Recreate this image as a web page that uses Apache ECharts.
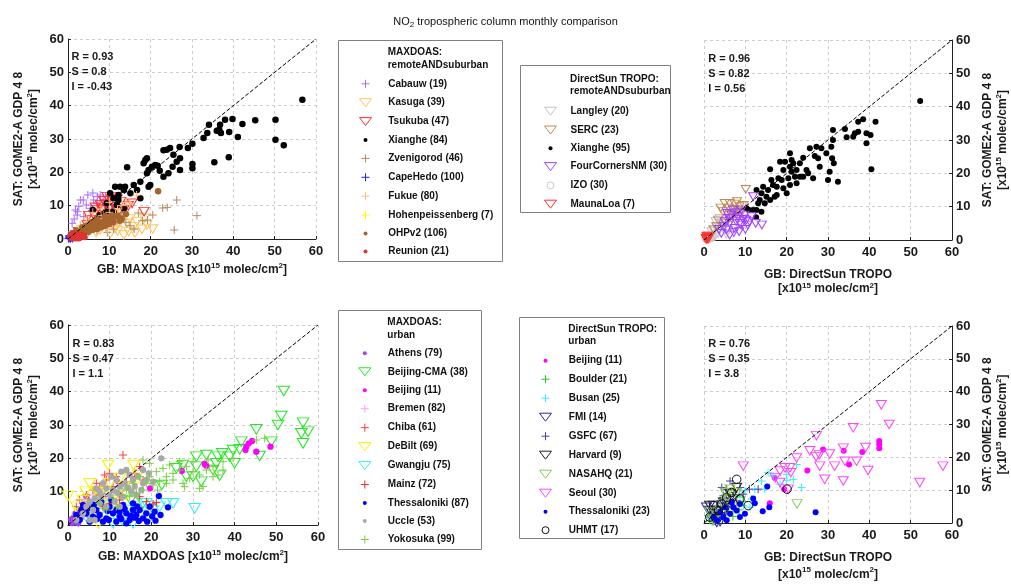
<!DOCTYPE html>
<html>
<head>
<meta charset="utf-8">
<script src="https://cdn.jsdelivr.net/npm/echarts@6.0.0/dist/echarts.min.js"></script>
<style>
  html, body { margin: 0; padding: 0; background: #fff; }
  #chart { width: 1011px; height: 584px; }
</style>
</head>
<body>
<div id="chart"></div>
<script>
// ---------------- data: [ground-based, satellite] in 1e15 molec/cm2 ----------------

// MAXDOAS remote and suburban stations
const tlCabauw = [[3.7,11.7],[7.1,12.7],[9.1,12.7],[2.3,8.2],[3.0,11.7],[4.8,13.2],[6.2,11.7],[1.8,8.7],[2.2,7.2],[7.8,13.2],[5.4,9.2],[1.0,4.7],[3.8,6.7],[7.0,10.7],[4.4,10.2],[6.0,13.8],[2.6,9.8],[8.5,11.5],[1.5,6.0]];
const tlKasuga = [[17.9,2.9],[15.9,3.7],[14.3,4.7],[12.6,5.2],[11.4,3.2],[9.4,3.7],[7.8,2.7],[14.7,2.2],[16.7,5.2],[19.1,4.2],[11.8,6.7],[7.8,5.7],[6.2,4.2],[4.6,2.7],[3.0,1.7],[1.4,0.9],[10.2,1.5],[5.4,5.7],[13.2,7.5],[18.5,6.2],[10.6,4.6],[8.8,6.4],[12.0,2.4],[16.2,1.8],[20.5,3.0],[9.0,8.0],[2.2,1.3],[6.8,1.9],[15.0,6.0],[13.5,1.2]];
const tlTsukuba = [[18.4,8.2],[15.5,10.7],[8.6,11.5],[7.8,10.2],[10.2,9.7],[7.0,8.7],[6.2,7.2],[5.4,5.7],[4.6,4.2],[3.8,2.7],[3.0,1.8],[12.2,8.2],[13.5,8.7],[9.4,12.7],[11.0,10.7],[1.8,1.2],[8.6,6.7],[9.8,7.6],[11.5,9.0],[6.6,9.5],[10.5,12.0],[12.8,11.2],[7.4,5.0],[5.0,7.0],[8.2,9.0],[14.6,10.0],[2.5,2.2],[9.0,10.5],[11.8,12.6],[6.0,4.6]];
const tlXianghe = [[56.7,41.8],[50.2,35.8],[50.2,29.8],[52.2,28.1],[45.3,35.6],[42.2,34.5],[41.1,30.6],[39.8,36.0],[38.0,35.8],[39.0,32.1],[36.8,34.3],[36.6,32.8],[36.0,32.5],[37.0,31.8],[34.1,34.3],[33.7,31.8],[32.8,30.3],[30.1,28.6],[29.0,27.3],[27.0,27.6],[35.4,23.0],[38.9,24.5],[30.1,22.5],[30.1,21.2],[27.1,24.2],[27.1,20.7],[25.5,25.3],[26.3,23.2],[24.7,27.3],[23.9,26.8],[23.1,26.6],[25.3,21.7],[24.3,19.7],[23.1,18.7],[21.1,22.2],[20.3,21.7],[19.5,20.7],[19.1,24.2],[18.7,23.7],[18.3,22.7],[19.1,19.7],[19.9,16.2],[19.5,15.7],[17.5,17.2],[15.9,16.2],[14.3,21.5],[13.8,15.7],[12.6,15.7],[11.4,15.7],[10.2,13.7],[12.2,13.2],[13.5,14.7],[15.1,13.7],[17.5,12.2],[11.0,12.2],[9.4,10.7],[11.8,10.2],[13.5,9.2],[11.0,8.2],[7.8,7.2],[6.0,8.7],[9.4,8.2],[12.2,11.7],[16.7,14.7],[21.7,22.0],[22.2,20.5]];
const tlZvenigorod = [[1.0,1.0],[2.0,2.0],[3.0,2.5],[4.0,3.0],[5.0,4.0],[6.0,3.0],[7.0,5.0],[8.0,4.0],[9.0,6.0],[10.0,5.0],[12.0,6.0],[14.0,5.0],[3.0,4.0],[5.0,2.0],[7.0,2.5],[11.0,3.0],[13.0,7.0],[15.0,4.0],[18.0,5.5],[16.0,3.0],[22.9,9.3],[26.3,11.7],[25.7,2.7],[31.2,7.0],[19.2,5.7],[24.0,9.5],[20.5,7.2],[9.5,2.0],[17.0,7.8]];
const tlCapeHedo = [[0.3,0.2],[0.5,0.5],[0.8,0.3],[1.0,0.8],[0.4,1.0],[1.2,0.4],[0.6,0.1],[1.5,1.0],[0.2,0.6],[0.9,1.3],[0.7,0.7],[1.1,0.1],[0.3,0.9],[1.3,0.6],[0.5,0.3],[0.1,0.1]];
const tlFukue = [[16.6,13.2],[5,5],[6,4],[7,6],[8,7],[9,5],[10,8],[4,3],[3,2],[2,1.5],[11,6],[12,9],[13,10],[14,11],[6,8],[8,9],[10,11],[5,3],[7,3.5],[3,4],[12,4],[15,10.5],[9.5,3],[11.5,7.5],[4.5,6]];
const tlHohenpeissenberg = [[2,2],[3,1],[4,3],[1.5,1],[5,2.5],[2.5,3],[1,0.5]];
const tlOHPv2 = [[1,0.8],[1.5,1.2],[2,1],[2,1.8],[2.5,1.5],[3,2],[3,1.2],[3.5,2.5],[4,2],[4,3],[4.5,2.5],[5,3.5],[5,2.2],[5.5,3],[6,4],[6,2.8],[6.5,3.5],[7,4.5],[7,3],[7.5,4],[8,5],[8,3.5],[8.5,4.5],[9,5.5],[9,4],[9.5,5],[10,6],[10,4.5],[11,6.5],[11,5],[12,7],[13,6],[14,7.5],[3.5,3.5],[4.5,4],[6,5],[7,6],[2,2.5],[1,1.5],[21.8,14.3],[12.5,5.5],[10.5,7],[9,6.8],[5.5,4.8]];
const tlReunion = [[1,0.5],[1.5,0.8],[2,0.6],[2.5,1],[3,0.8],[1.2,1.2],[2.2,1.4],[3.3,1.2],[0.8,0.3],[1.8,0.2],[2.8,0.4],[3.8,1],[1.5,1.6],[2.6,0.2],[4,0.6],[0.6,0.9]];

// DirectSun remote and suburban stations
const trLangley = [[1.8,2.5],[3.0,4.0],[3.4,2.0],[4.6,3.5],[2.6,1.0],[1.0,1.5],[4.2,5.0],[5.4,1.8],[3.8,6.5],[2.2,3.2],[5.0,4.4],[1.5,0.6],[6.0,3.0],[2.8,5.5]];
const trSERC = [[10.1,15.2],[6.2,11.0],[5.0,11.0],[7.4,10.8],[8.6,10.0],[8.2,8.5],[4.6,8.5],[5.8,7.5],[3.4,6.0],[6.6,6.5],[3.0,4.0],[7.4,9.2],[9.6,10.4],[4.0,9.6],[7.0,7.8],[5.2,5.4],[2.4,3.0],[9.0,8.0],[6.0,9.6],[8.0,11.5]];
const trXianghe = [[52.3,41.7],[41.5,35.5],[40.3,31.5],[39.3,32.0],[39.3,29.0],[40.5,21.2],[38.5,36.2],[37.3,35.5],[37.3,32.5],[36.5,32.0],[36.1,31.0],[34.1,33.3],[34.5,30.8],[31.2,33.0],[31.2,30.0],[30.8,28.0],[31.0,24.5],[31.4,23.0],[30.4,20.5],[30.0,18.0],[32.4,17.5],[28.4,27.5],[27.2,28.0],[26.8,25.2],[27.6,24.5],[28.0,22.0],[25.6,27.5],[24.0,24.7],[24.8,21.0],[25.2,20.0],[26.4,18.5],[23.2,23.0],[22.4,21.0],[22.0,19.0],[23.2,19.0],[20.8,26.0],[21.2,24.0],[20.8,22.0],[21.6,23.0],[21.2,20.5],[20.4,18.5],[20.8,16.5],[19.6,23.5],[18.4,23.5],[19.2,21.0],[18.8,18.0],[18.0,18.5],[20.0,14.0],[17.6,16.0],[16.0,21.2],[16.3,18.0],[16.7,16.5],[17.1,13.0],[15.5,15.0],[15.1,13.0],[14.3,16.0],[13.9,14.0],[13.5,12.0],[12.7,15.0],[13.1,11.0],[13.9,8.5],[12.7,9.0],[11.9,9.0],[12.6,6.8],[10.9,9.0],[10.3,9.5],[14.7,11.0],[16.0,12.0],[17.6,13.5],[19.2,15.5],[22.4,17.0],[24.0,19.0],[29.6,26.0]];
const trFourCornersNM = [[11.9,13.0],[14.0,4.5],[10.2,6.0],[9.8,7.5],[8.2,7.0],[6.6,7.5],[9.0,4.5],[7.4,3.5],[6.2,5.0],[5.4,3.0],[4.2,2.0],[7.8,5.5],[9.0,9.0],[7.0,9.0],[10.6,4.5],[5.0,5.5],[6.2,1.5],[8.5,2.5],[10.0,3.2],[11.0,5.5],[6.0,6.5],[8.0,8.2],[4.8,4.0],[7.2,2.2],[3.6,3.2],[5.6,8.0],[9.5,6.2],[11.5,7.0],[12.5,5.0],[8.6,5.0]];
const trIZO = [[0.5,0.2],[1.0,0.4],[0.8,0.6],[1.2,0.3],[0.3,0.5],[1.5,0.5],[0.7,0.1],[1.1,0.8],[1.8,0.6],[0.4,0.9],[2.0,1.0],[1.4,1.1]];
const trMaunaLoa = [[0.6,1.0],[0.8,0.6],[1.0,0.3],[0.4,0.5],[0.9,1.2],[1.2,0.8],[0.6,0.2]];

// MAXDOAS urban stations
const blAthens = [[1.6,1.5],[2.0,2.5],[2.8,4.5],[4.4,8.5],[1.2,1.0],[3.2,3.0],[2.4,0.5],[4.0,4.5],[5.2,6.0],[1.8,3.5],[0.8,1.7],[1.4,2.2],[2.2,1.2],[3.6,5.5],[2.6,3.8],[1.0,0.6],[3.0,2.0],[4.6,3.2]];
const blBeijingCMA = [[51.8,40.2],[51.2,32.7],[50.4,30.0],[56.4,30.7],[57.6,28.0],[56.0,27.5],[56.4,24.5],[45.2,28.7],[48.8,25.0],[46.0,20.7],[41.6,25.0],[41.2,22.7],[39.6,22.5],[38.8,20.5],[40.0,18.5],[37.0,21.5],[36.0,20.5],[35.6,18.5],[34.8,16.5],[36.4,14.8],[33.2,21.0],[30.8,17.5],[30.0,14.5],[32.0,13.0],[28.4,14.5],[30.8,20.5],[27.6,18.0],[26.0,17.0],[18.0,6.5],[12.4,10.0],[7.6,8.5],[22.5,12.0],[15.0,7.5]];
const blBeijing = [[44.2,25.2],[43.4,24.5],[42.8,23.5],[42.6,22.5],[45.2,22.0],[48.6,23.5],[32.8,18.3],[27.3,16.2],[19.7,11.0],[12.5,9.0],[33.2,17.8]];
const blBremen = [[2,3],[3,5],[4,4],[5,6],[6,5],[7,8],[8,7],[9,9],[10,8],[11,10],[12,9],[13,11],[5,3],[7,4],[9,5],[4,7],[6,9],[3,2.5],[8,11],[10,6]];
const blChiba = [[13.2,21.0],[10.0,15.5],[8.8,15.0],[9.2,13.5],[6.8,12.5],[7.6,11.5],[6.0,10.5],[11.6,14.5],[15.2,14.5],[16.0,15.5],[14.0,13.0],[12.4,12.5],[10.8,11.5],[4.4,9.0],[2.8,7.5],[5.2,7.0],[8.4,8.5],[2.0,5.5],[17.2,17.5],[18.0,13.5]];
const blDeBilt = [[0,8.8],[9.6,18.0],[5.2,12.5],[6.8,10.0],[9.2,8.5],[3.6,7.5],[5.2,4.5],[8.4,5.5],[11.6,7.0],[14.0,9.0],[7.3,0.5],[2.8,3.5],[10.0,12.5],[15.6,11.5],[2.0,5.5],[15.7,18.0],[16.9,15.0],[7.3,10.0],[12.5,14.0],[4.2,10.0]];
const blGwangju = [[30.4,5.0],[25.2,6.5],[23.6,6.5],[18.8,6.5],[16.4,5.5],[15.6,0.5],[10.8,0.5],[20.4,4.5],[14.0,4.5],[7.6,3.5],[4.4,2.5],[11.6,2.5],[17.2,3.0],[22.0,5.5],[6.0,5.5],[19.5,2.0],[13.0,1.5],[9.0,6.0]];
const blMainz = [[21.2,6.7],[20.4,6.3],[14.8,10.5],[7.6,9.0],[3.6,4.5],[6.0,4.5],[10.0,6.5],[12.4,7.5],[17.2,8.5],[18.8,7.0],[1.6,2.5],[8.4,5.5]];
const blThessaloniki = [[21.0,1.3],[22.2,3.0],[21.8,8.7],[24.0,5.3],[18.0,2.0],[16.4,3.0],[15.6,4.5],[14.0,3.5],[12.4,2.5],[10.8,3.5],[9.2,2.0],[7.6,3.0],[6.0,2.5],[4.4,3.5],[3.6,6.0],[2.8,1.5],[5.2,1.0],[10.0,5.5],[11.6,4.5],[13.2,6.0],[14.8,1.5],[17.2,4.5],[18.8,3.5],[8.4,1.0],[11.6,1.0],[6.8,4.5],[2.0,3.0],[15.6,6.5],[14.0,0.5],[19.6,5.5],[12.4,4.0],[16.0,2.2],[9.5,4.2],[4.8,5.0],[6.2,6.0],[8.0,6.8],[9.8,1.5],[12.8,1.8],[13.6,4.8],[15.0,2.8],[17.0,1.2],[19.0,1.0],[20.2,2.6],[3.2,4.5],[7.0,1.8],[10.4,7.5],[16.6,5.6],[20.8,4.0]];
const blUccle = [[22.4,20.0],[18.8,13.5],[18.0,12.5],[16.8,14.5],[15.6,13.5],[14.0,16.5],[13.6,12.5],[12.4,11.5],[11.6,13.5],[10.8,10.5],[10.0,9.0],[9.2,11.0],[7.6,10.0],[6.4,8.0],[5.2,7.0],[4.4,5.5],[7.6,6.5],[9.2,5.5],[11.2,7.0],[13.2,8.5],[15.2,10.0],[16.4,9.0],[5.2,1.5],[3.6,3.5],[2.0,1.5],[6.0,4.5],[12.4,5.5],[18.0,16.5],[6.4,1.5],[8.4,12.5],[10.4,14.5],[12.8,16.0],[14.8,15.0],[16.0,11.5],[17.6,10.5],[19.4,15.5],[20.4,13.0],[8.0,8.6],[6.8,11.0],[11.8,9.8],[14.4,11.2]];
const blYokosuka = [[47.2,26.0],[45.2,25.5],[39.6,20.0],[37.2,19.0],[34.8,17.5],[33.2,16.5],[31.6,15.0],[32.4,11.5],[30.0,16.0],[28.4,17.5],[26.8,16.5],[25.2,15.5],[23.6,14.5],[22.8,17.0],[21.2,16.0],[19.6,14.5],[22.0,13.0],[23.6,12.5],[25.2,13.5],[27.6,12.5],[20.4,12.0],[18.8,12.5],[18.0,10.5],[16.4,9.5],[14.8,8.5],[17.2,14.5],[15.6,12.5],[14.0,10.5],[12.4,9.0],[10.8,8.0],[19.6,18.5],[18.0,19.5],[31.6,11.0],[34.8,14.5],[37.2,16.5],[26.8,19.0],[30.0,19.0],[11.6,5.5],[9.2,4.5],[7.6,6.5],[24.4,18.0],[29.2,14.0],[33.6,19.5],[36.0,15.0],[28.0,11.5],[21.5,10.5]];

// DirectSun urban stations
const brBeijing = [[42.4,25.0],[42.4,24.0],[42.4,22.8],[38.3,21.6],[33.8,22.0],[28.8,22.4],[35.1,17.8],[25.0,16.0],[19.4,10.3],[15.9,6.0],[17.1,13.8]];
const brBoulder = [[1.0,2.3],[1.4,0.8],[2.5,1.5],[3.0,2.0],[2.0,0.4],[3.5,3.0],[4.5,1.2],[5.0,2.5],[6.0,3.5],[7.0,2.0],[8.5,4.0],[4.0,4.2],[2.2,3.2],[6.5,5.5],[9.5,6.5]];
const brBusan = [[23.6,10.8],[21.6,13.3],[20.0,13.0],[18.4,11.8],[16.7,14.3],[15.5,15.3],[13.9,12.8],[12.3,10.3],[11.5,7.3],[11.1,4.8],[22.4,17.8],[20.0,14.8],[14.7,10.3],[9.9,9.8],[8.7,7.8],[9.5,5.3]];
const brFMI = [[1.4,3.8],[0.6,4.8],[2.3,5.3],[3.5,1.8],[4.7,2.8],[2.7,0.8],[4.3,4.8],[5.5,5.8],[6.3,7.3],[3.1,0.2],[1.8,2.3],[3.9,0.4]];
const brGSFC = [[11.0,10.3],[13.1,10.3],[6.3,12.8],[5.5,10.3],[4.7,8.3],[3.9,6.8],[7.1,9.3],[8.7,10.8],[3.1,4.8],[2.3,3.3],[1.4,1.8],[7.9,6.8],[5.9,5.8],[9.5,8.8],[4.3,10.8]];
const brHarvard = [[3.1,3.8],[4.7,6.3],[6.3,8.8],[3.9,1.8],[7.9,10.8],[5.5,4.8],[1.4,5.3],[7.1,7.3],[2.7,2.3]];
const brNASAHQ = [[22.5,5.8],[7.9,9.3],[6.3,10.3],[5.5,7.3],[4.7,5.8],[3.9,3.8],[3.1,2.3],[7.1,4.8],[8.7,6.8],[2.3,0.8],[5.1,9.3],[1.4,3.3]];
const brSeoul = [[57.8,17.3],[52.2,12.3],[42.9,36.0],[44.8,30.0],[36.1,29.0],[39.1,23.0],[39.7,16.0],[36.9,18.8],[34.1,18.8],[33.7,22.8],[33.7,12.8],[31.6,17.3],[30.4,21.0],[29.2,13.3],[28.0,17.3],[27.9,20.8],[25.6,22.0],[27.2,26.6],[22.4,19.8],[21.0,15.3],[20.8,16.8],[19.6,16.8],[18.4,15.8],[18.4,12.3],[17.2,13.8],[9.5,17.3],[20.4,10.3],[27.1,20.2]];
const brThessaloniki = [[27.0,3.3],[15.3,11.1],[14.2,3.6],[15.8,4.8],[11.9,7.5],[12.3,6.0],[8.7,1.8],[7.1,4.8],[6.3,2.8],[4.7,1.8],[3.9,3.3],[3.1,0.8],[5.5,0.8],[7.9,3.8],[2.3,1.8],[9.9,2.8],[6.7,6.3],[5.1,4.8],[8.7,5.8]];
const brUHMT = [[7.9,13.3],[20.1,10.3],[10.7,5.3],[4.3,5.8],[5.5,7.8],[6.7,9.3],[3.5,3.8],[2.3,5.3],[8.7,7.3],[1.4,1.8]];

// regression statistics printed in each panel
const statsTL = ['R = 0.93', 'S = 0.8', 'I = -0.43'];
const statsTR = ['R = 0.96', 'S = 0.82', 'I = 0.56'];
const statsBL = ['R = 0.83', 'S = 0.47', 'I = 1.1'];
const statsBR = ['R = 0.76', 'S = 0.35', 'I = 3.8'];

// shared axis range and one-to-one reference line
const axisMin = 0, axisMax = 60, axisStep = 10;
const oneToOne = [[0, 0], [60, 60]];

// ---------------- drawing ----------------
const FONT = '"Liberation Sans", Arial, Helvetica, sans-serif';
const INK = '#1a1a1a';

const SYMBOL = {
  tri: 'path://M0,0 L10,0 L5,8.66 Z',
  plus: 'path://M5,0 L5,10 M0,5 L10,5',
  dot: 'circle',
  ring: 'circle'
};
// legend icons drawn in a fixed 14x12 frame so each keeps its own size
const LEGEND_ICON = {
  tri: 'path://M0,0 M14,12 M1,2 L13,2 L7,10 Z',
  plus: 'path://M0,0 M14,12 M7,2 L7,10 M3,6 L11,6',
  dot: 'path://M0,0 M14,12 M5,6 A2,2 0 1 1 9,6 A2,2 0 1 1 5,6 Z',
  ring: 'path://M0,0 M14,12 M3.5,6 A3.5,3.5 0 1 1 10.5,6 A3.5,3.5 0 1 1 3.5,6 Z'
};

const panels = [
  {
    grid: { left: 68, top: 39, width: 248, height: 200 }, ySide: 'left',
    xName: 'GB: MAXDOAS [x10{sup|15} molec/cm{sup|2}]', xGap: 23, xLine: 15,
    yGap: 27, stats: statsTL, statsAt: [71.5, 49.5],
    box: [338, 40, 164, 221], header: 'MAXDOAS:\nremoteANDsuburban', headerAt: [387.7, 46.5],
    legendAt: [358, 77.3], legendGap: 5.9, textPad: 10.7, triSize: [10, 8.6], dotSize: 6.5,
    stations: [
      { name: 'Cabauw (19)', data: tlCabauw, kind: 'plus', color: '#ac6cff' },
      { name: 'Kasuga (39)', data: tlKasuga, kind: 'tri', color: '#ffc25a' },
      { name: 'Tsukuba (47)', data: tlTsukuba, kind: 'tri', color: '#ff2a2a' },
      { name: 'Xianghe (84)', data: tlXianghe, kind: 'dot', color: '#000000' },
      { name: 'Zvenigorod (46)', data: tlZvenigorod, kind: 'plus', color: '#b08a62' },
      { name: 'CapeHedo (100)', data: tlCapeHedo, kind: 'plus', color: '#2020ff' },
      { name: 'Fukue (80)', data: tlFukue, kind: 'plus', color: '#ffc080' },
      { name: 'Hohenpeissenberg (7)', data: tlHohenpeissenberg, kind: 'plus', color: '#ffff00' },
      { name: 'OHPv2 (106)', data: tlOHPv2, kind: 'dot', color: '#a5642e' },
      { name: 'Reunion (21)', data: tlReunion, kind: 'dot', color: '#dd3333' }
    ]
  },
  {
    grid: { left: 704, top: 40, width: 248, height: 200 }, ySide: 'right',
    xName: 'GB: DirectSun TROPO\n[x10{sup|15} molec/cm{sup|2}]', xGap: 27, xLine: 14.5,
    yGap: 28, stats: statsTR, statsAt: [708.3, 51.5],
    box: [520, 65, 150, 147], header: 'DirectSun TROPO:\nremoteANDsuburban', headerAt: [570, 73.1],
    legendAt: [543, 104.7], legendGap: 5.8, textPad: 8, triSize: [9, 7.8], dotSize: 6,
    stations: [
      { name: 'Langley (20)', data: trLangley, kind: 'tri', color: '#c4c4c4' },
      { name: 'SERC (23)', data: trSERC, kind: 'tri', color: '#c08a55' },
      { name: 'Xianghe (95)', data: trXianghe, kind: 'dot', color: '#000000' },
      { name: 'FourCornersNM (30)', data: trFourCornersNM, kind: 'tri', color: '#a040ff' },
      { name: 'IZO (30)', data: trIZO, kind: 'ring', color: '#c8c8c8', size: 7 },
      { name: 'MaunaLoa (7)', data: trMaunaLoa, kind: 'tri', color: '#ff3030' }
    ]
  },
  {
    grid: { left: 68, top: 325, width: 250, height: 200 }, ySide: 'left',
    xName: 'GB: MAXDOAS [x10{sup|15} molec/cm{sup|2}]', xGap: 24, xLine: 15,
    yGap: 27, stats: statsBL, statsAt: [72.5, 336],
    box: [338, 310, 143, 239], header: 'MAXDOAS:\nurban', headerAt: [387.3, 316.5],
    legendAt: [357.3, 347.3], legendGap: 5.97, textPad: 11, triSize: [11.5, 9.6], dotSize: 6.3,
    stations: [
      { name: 'Athens (79)', data: blAthens, kind: 'dot', color: '#9b45ff' },
      { name: 'Beijing-CMA (38)', data: blBeijingCMA, kind: 'tri', color: '#22e822' },
      { name: 'Beijing (11)', data: blBeijing, kind: 'dot', color: '#ff00ff' },
      { name: 'Bremen (82)', data: blBremen, kind: 'plus', color: '#ff9cff' },
      { name: 'Chiba (61)', data: blChiba, kind: 'plus', color: '#ff3a3a' },
      { name: 'DeBilt (69)', data: blDeBilt, kind: 'tri', color: '#f5f500' },
      { name: 'Gwangju (75)', data: blGwangju, kind: 'tri', color: '#33f0ff' },
      { name: 'Mainz (72)', data: blMainz, kind: 'plus', color: '#e82828' },
      { name: 'Thessaloniki (87)', data: blThessaloniki, kind: 'dot', color: '#0000ff' },
      { name: 'Uccle (53)', data: blUccle, kind: 'dot', color: '#a8a8a8' },
      { name: 'Yokosuka (99)', data: blYokosuka, kind: 'plus', color: '#7acc45' }
    ]
  },
  {
    grid: { left: 704, top: 326, width: 248, height: 200 }, ySide: 'right',
    xName: 'GB: DirectSun TROPO\n[x10{sup|15} molec/cm{sup|2}]', xGap: 26, xLine: 17,
    yGap: 28, stats: statsBR, statsAt: [708.3, 336.8],
    box: [519, 317, 145, 221], header: 'DirectSun TROPO:\nurban', headerAt: [568.3, 322.6],
    legendAt: [538, 354.7], legendGap: 6.0, textPad: 11.3, triSize: [10, 8.6], dotSize: 6,
    stations: [
      { name: 'Beijing (11)', data: brBeijing, kind: 'dot', color: '#ff00ff' },
      { name: 'Boulder (21)', data: brBoulder, kind: 'plus', color: '#22cc22' },
      { name: 'Busan (25)', data: brBusan, kind: 'plus', color: '#33f0ff' },
      { name: 'FMI (14)', data: brFMI, kind: 'tri', color: '#2a2aa0' },
      { name: 'GSFC (67)', data: brGSFC, kind: 'plus', color: '#4a3fa8' },
      { name: 'Harvard (9)', data: brHarvard, kind: 'tri', color: '#222222' },
      { name: 'NASAHQ (21)', data: brNASAHQ, kind: 'tri', color: '#88cc55' },
      { name: 'Seoul (30)', data: brSeoul, kind: 'tri', color: '#ff44ff' },
      { name: 'Thessaloniki (23)', data: brThessaloniki, kind: 'dot', color: '#0000ff' },
      { name: 'UHMT (17)', data: brUHMT, kind: 'ring', color: '#111111', size: 8.5 }
    ]
  }
];

const RICH = {
  sup: { fontSize: 8, fontWeight: 'bold', fontFamily: FONT, color: INK, verticalAlign: 'top', lineHeight: 9 }
};

function markStyle(s) {
  if (s.kind === 'dot') return { color: s.color, borderWidth: 0, opacity: 1 };
  return { color: 'rgba(0,0,0,0)', borderColor: s.color, borderWidth: 1, opacity: 1 };
}

function axisCommon(gi) {
  return {
    gridIndex: gi, type: 'value', min: axisMin, max: axisMax, interval: axisStep,
    axisLine: { show: true, onZero: false, lineStyle: { color: '#222', width: 1 } },
    axisTick: { show: true, inside: true, length: 3, lineStyle: { color: '#222' } },
    axisLabel: { fontSize: 13, fontWeight: 'bold', color: INK, fontFamily: FONT },
    splitLine: { show: true, lineStyle: { color: '#cdcdcd', width: 1, type: [3, 3] } },
    nameLocation: 'middle',
    nameTextStyle: { fontSize: 12, fontWeight: 'bold', color: INK, fontFamily: FONT, rich: RICH }
  };
}

const grids = [], xAxes = [], yAxes = [], series = [], legends = [], graphics = [];

panels.forEach((p, gi) => {
  grids.push(Object.assign({ containLabel: false }, p.grid));

  const xa = axisCommon(gi);
  xa.position = 'bottom';
  xa.axisLabel = Object.assign({}, xa.axisLabel, { margin: 6 });
  xa.name = p.xName;
  xa.nameGap = p.xGap;
  xa.nameTextStyle = Object.assign({}, xa.nameTextStyle, { lineHeight: p.xLine });
  xAxes.push(xa);

  const ya = axisCommon(gi);
  ya.position = p.ySide;
  ya.axisLabel = Object.assign({}, ya.axisLabel, { margin: 4 });
  ya.name = 'SAT: GOME2-A GDP 4 8\n[x10{sup|15} molec/cm{sup|2}]';
  ya.nameGap = p.yGap;
  ya.nameTextStyle = Object.assign({}, ya.nameTextStyle, { lineHeight: 15 });
  yAxes.push(ya);

  p.stations.forEach(s => {
    let size = 8;
    if (s.kind === 'tri') size = p.triSize;
    else if (s.kind === 'dot') size = p.dotSize;
    else if (s.size) size = s.size;
    series.push({
      type: 'scatter', name: s.name, xAxisIndex: gi, yAxisIndex: gi,
      data: s.data, symbol: SYMBOL[s.kind], symbolSize: size,
      itemStyle: markStyle(s), silent: true, emphasis: { disabled: true }
    });
  });

  series.push({
    type: 'line', name: 'one-to-one', xAxisIndex: gi, yAxisIndex: gi,
    data: oneToOne, symbol: 'none', silent: true, z: 5,
    lineStyle: { color: '#000', width: 1, type: [4, 2] }
  });

  legends.push({
    orient: 'vertical', left: p.legendAt[0], top: p.legendAt[1], padding: 0,
    itemWidth: 14, itemHeight: 12, itemGap: p.legendGap, selectedMode: false, z: 10,
    textStyle: { fontSize: 10, fontWeight: 'bold', color: '#111', fontFamily: FONT, lineHeight: 12, padding: [0, 0, 0, p.textPad] },
    data: p.stations.map(s => ({ name: s.name, icon: LEGEND_ICON[s.kind], itemStyle: markStyle(s) }))
  });

  graphics.push({
    type: 'rect', z: 1, silent: true,
    shape: { x: p.box[0] + 0.5, y: p.box[1] + 0.5, width: p.box[2], height: p.box[3] },
    style: { fill: '#fff', stroke: '#808080', lineWidth: 1 }
  });
  graphics.push({
    type: 'text', z: 11, silent: true, x: p.headerAt[0], y: p.headerAt[1],
    style: { text: p.header, fill: '#111', font: 'bold 10px ' + FONT, lineHeight: 12.4, textAlign: 'left', textVerticalAlign: 'top', align: 'left', verticalAlign: 'top' }
  });
  graphics.push({
    type: 'text', z: 11, silent: true, x: p.statsAt[0], y: p.statsAt[1],
    style: { text: p.stats.join('\n'), fill: INK, font: 'bold 11px ' + FONT, lineHeight: 15, textAlign: 'left', textVerticalAlign: 'top', align: 'left', verticalAlign: 'top' }
  });
});

const chart = echarts.init(document.getElementById('chart'), null, { renderer: 'canvas' });
chart.setOption({
  animation: false,
  backgroundColor: '#ffffff',
  title: {
    text: 'NO{sub|2} tropospheric column monthly comparison',
    left: 'center', top: 10,
    textStyle: {
      fontSize: 11, fontWeight: 'normal', color: '#111', fontFamily: FONT, lineHeight: 14,
      rich: { sub: { fontSize: 8, color: '#111', fontFamily: FONT, verticalAlign: 'bottom', lineHeight: 9 } }
    }
  },
  grid: grids,
  xAxis: xAxes,
  yAxis: yAxes,
  legend: legends,
  graphic: graphics,
  series: series
});
</script>
</body>
</html>
